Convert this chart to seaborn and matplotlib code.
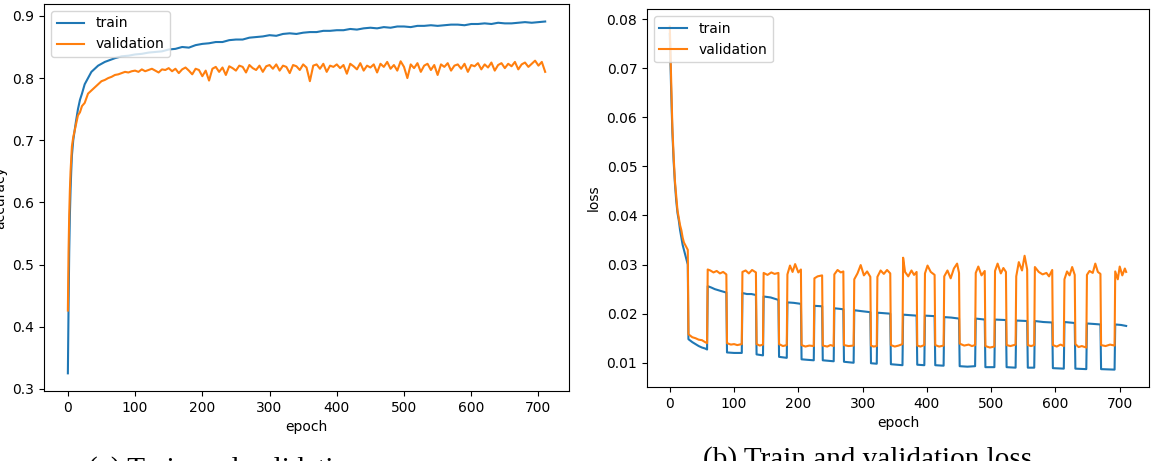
import matplotlib
matplotlib.use("Agg")
import matplotlib.pyplot as plt
import seaborn as sns

# accuracy, train
acc_train_epoch = [0, 1, 2, 3, 4, 5, 6, 8, 10, 12, 15, 18, 21, 25, 30, 35, 40, 45, 50, 55, 60, 70, 80, 90] + list(range(100, 711, 10))
acc_train = [0.325, 0.43, 0.52, 0.58, 0.62, 0.65, 0.675, 0.70, 0.715, 0.73, 0.75, 0.765, 0.775, 0.79, 0.80, 0.81, 0.815, 0.82, 0.823, 0.826, 0.828, 0.832, 0.835, 0.836,
             0.838, 0.839, 0.841, 0.842, 0.843, 0.846, 0.847, 0.850, 0.849, 0.853,
             0.855, 0.856, 0.858, 0.858, 0.861, 0.862, 0.862, 0.865, 0.866, 0.867,
             0.869, 0.868, 0.871, 0.872, 0.871, 0.873, 0.874, 0.874, 0.876, 0.876,
             0.877, 0.877, 0.879, 0.878, 0.880, 0.881, 0.880, 0.882, 0.881, 0.883,
             0.883, 0.882, 0.884, 0.884, 0.885, 0.884, 0.885, 0.886, 0.886, 0.885,
             0.887, 0.887, 0.888, 0.887, 0.889, 0.888, 0.888, 0.889, 0.890, 0.889,
             0.890, 0.891]

# accuracy, validation
acc_val_epoch = [0, 1, 2, 3, 4, 5, 6, 8, 10, 12, 15, 18, 21, 25, 30, 35, 40, 45, 50, 55, 60, 65, 70, 75, 80, 85, 90, 95] + list(range(100, 711, 5))
acc_val = [0.426, 0.52, 0.58, 0.62, 0.65, 0.67, 0.69, 0.705, 0.715, 0.725, 0.74, 0.745, 0.755, 0.76, 0.775, 0.78, 0.785, 0.79, 0.795, 0.797, 0.80, 0.802, 0.805, 0.806, 0.808, 0.81, 0.809, 0.811,
           0.812, 0.810, 0.814, 0.811, 0.813, 0.815, 0.812, 0.809, 0.814, 0.813, 0.816, 0.811, 0.815, 0.808, 0.814, 0.817, 0.812, 0.806, 0.815, 0.813, 0.803,
           0.812, 0.796, 0.815, 0.818, 0.810, 0.817, 0.805, 0.819, 0.816, 0.812, 0.820, 0.818, 0.809, 0.821, 0.816, 0.813, 0.820, 0.810, 0.819, 0.821,
           0.815, 0.822, 0.812, 0.820, 0.818, 0.808, 0.821, 0.819, 0.813, 0.822, 0.817, 0.795, 0.820, 0.822, 0.815, 0.823, 0.810, 0.820, 0.818, 0.822,
           0.816, 0.821, 0.807, 0.823, 0.819, 0.814, 0.824, 0.812, 0.820, 0.817, 0.822, 0.809, 0.823, 0.818, 0.826, 0.815, 0.821, 0.812, 0.827, 0.818,
           0.800, 0.822, 0.816, 0.824, 0.810, 0.820, 0.823, 0.813, 0.821, 0.805, 0.822, 0.818, 0.824, 0.812, 0.820, 0.822, 0.815, 0.823, 0.810, 0.821,
           0.819, 0.824, 0.814, 0.822, 0.817, 0.825, 0.812, 0.821, 0.824, 0.816, 0.823, 0.819, 0.826, 0.814, 0.822, 0.825, 0.818, 0.823, 0.828, 0.820,
           0.826, 0.810]

# loss, validation
loss_val_epoch = [0, 2, 4, 6, 8, 10, 12, 14, 16, 18, 20, 22, 24, 26, 28,
                  29, 35, 40, 45, 50, 55, 58,
                  59, 63, 68, 73, 78, 83, 88,
                  89, 95, 100, 105, 112,
                  113, 118, 123, 128, 134,
                  135, 140, 145,
                  146, 152, 158, 163, 169,
                  170, 176, 182,
                  183, 187, 191, 195, 200, 204,
                  205, 211, 217, 224,
                  225, 230, 237,
                  238, 245, 250, 255,
                  256, 261, 266, 270,
                  271, 278, 286,
                  287, 292, 297, 302, 307, 312,
                  313, 317, 322,
                  323, 328, 333, 338, 343,
                  344, 350, 356, 362,
                  363, 366, 371, 376, 380, 384,
                  385, 390, 396,
                  397, 401, 406, 412,
                  413, 419, 426,
                  427, 432, 437, 442, 447, 450,
                  451, 458, 465, 470, 475,
                  476, 480, 485, 490,
                  491, 498, 505,
                  506, 510, 515, 519, 523,
                  524, 530, 538,
                  539, 543, 548, 552, 556,
                  557, 562, 567,
                  568, 574, 580, 586, 590, 595,
                  596, 602, 608, 613,
                  614, 618, 622, 626, 630,
                  631, 636, 641, 648,
                  649, 653, 658, 662, 666, 670,
                  671, 678, 685, 692,
                  693, 697, 700, 704, 708, 710]
loss_val = [0.0785, 0.068, 0.058, 0.052, 0.047, 0.044, 0.041, 0.0395, 0.038, 0.037, 0.0355, 0.0345, 0.034, 0.0335, 0.033,
            0.0158, 0.0152, 0.0150, 0.0147, 0.0146, 0.0142, 0.0140,
            0.0290, 0.0288, 0.0284, 0.0287, 0.0282, 0.0285, 0.0280,
            0.0140, 0.0137, 0.0138, 0.0136, 0.0138,
            0.0285, 0.0288, 0.0282, 0.0289, 0.0284,
            0.0138, 0.0135, 0.0137,
            0.0283, 0.0279, 0.0284, 0.0281, 0.0283,
            0.0138, 0.0134, 0.0136,
            0.0280, 0.0298, 0.0285, 0.0301, 0.0284, 0.0290,
            0.0136, 0.0133, 0.0135, 0.0134,
            0.0272, 0.0276, 0.0278,
            0.0135, 0.0133, 0.0136, 0.0134,
            0.0280, 0.0289, 0.0284, 0.0286,
            0.0136, 0.0134, 0.0135,
            0.0270, 0.0282, 0.0299, 0.0278, 0.0286, 0.0275,
            0.0135, 0.0133, 0.0134,
            0.0275, 0.0288, 0.0281, 0.0289, 0.0282,
            0.0136, 0.0133, 0.0135, 0.0138,
            0.0314, 0.0285, 0.0276, 0.0288, 0.0279, 0.0285,
            0.0135, 0.0133, 0.0136,
            0.0282, 0.0298, 0.0285, 0.0279,
            0.0136, 0.0133, 0.0135,
            0.0276, 0.0288, 0.0272, 0.0292, 0.0302, 0.0283,
            0.0139, 0.0135, 0.0137, 0.0134, 0.0136,
            0.0283, 0.0296, 0.0278, 0.0287,
            0.0134, 0.0131, 0.0133,
            0.0287, 0.0302, 0.0282, 0.0293, 0.0285,
            0.0136, 0.0134, 0.0137,
            0.0276, 0.0305, 0.0288, 0.0318, 0.0290,
            0.0136, 0.0134, 0.0136,
            0.0295, 0.0285, 0.0280, 0.0283, 0.0276, 0.0289,
            0.0136, 0.0133, 0.0137, 0.0134,
            0.0270, 0.0286, 0.0278, 0.0295, 0.0279,
            0.0138, 0.0132, 0.0134, 0.0131,
            0.0279, 0.0287, 0.0283, 0.0302, 0.0285, 0.0281,
            0.0136, 0.0134, 0.0137, 0.0135,
            0.0286, 0.0270, 0.0296, 0.0278, 0.0292, 0.0285]

# loss, train
loss_train_epoch = [0, 2, 4, 6, 8, 10, 12, 14, 16, 18, 20, 22, 24, 26, 28,
                    29, 35, 40, 45, 50, 55, 58,
                    59, 65, 70, 75, 80, 88,
                    89, 100, 112,
                    113, 120, 127, 134,
                    135, 145,
                    146, 157, 169,
                    170, 182,
                    183, 193, 204,
                    205, 214, 224,
                    225, 237,
                    238, 255,
                    256, 270,
                    271, 286,
                    287, 299, 312,
                    313, 322,
                    323, 333, 343,
                    344, 362,
                    363, 373, 384,
                    385, 396,
                    397, 412,
                    413, 426,
                    427, 438, 450,
                    451, 463, 475,
                    476, 490,
                    491, 505,
                    506, 523,
                    524, 538,
                    539, 556,
                    557, 567,
                    568, 581, 595,
                    596, 613,
                    614, 630,
                    631, 648,
                    649, 660, 670,
                    671, 692,
                    693, 702, 710]
loss_train = [0.077, 0.066, 0.057, 0.051, 0.0465, 0.043, 0.0405, 0.039, 0.037, 0.0355, 0.034, 0.033, 0.032, 0.031, 0.030,
              0.0148, 0.0142, 0.0138, 0.0134, 0.0131, 0.0129, 0.0127,
              0.0256, 0.0253, 0.0250, 0.0248, 0.0246, 0.0243,
              0.0121, 0.0120, 0.0120,
              0.0242, 0.0240, 0.0240, 0.0238,
              0.0117, 0.0115,
              0.0235, 0.0233, 0.0228,
              0.0112, 0.0110,
              0.0223, 0.0222, 0.0220,
              0.0107, 0.0106, 0.0105,
              0.0216, 0.0215,
              0.0105, 0.0103,
              0.0211, 0.0209,
              0.0102, 0.0100,
              0.0207, 0.0205, 0.0203,
              0.0099, 0.0098,
              0.0202, 0.0201, 0.0200,
              0.0097, 0.0095,
              0.0198, 0.0197, 0.0196,
              0.0096, 0.0095,
              0.0196, 0.0195,
              0.0095, 0.0094,
              0.0193, 0.0192, 0.0190,
              0.0093, 0.0092, 0.0093,
              0.0190, 0.0188,
              0.0091, 0.0091,
              0.0188, 0.0187,
              0.0091, 0.0090,
              0.0186, 0.0185,
              0.0090, 0.0090,
              0.0185, 0.0183, 0.0182,
              0.0089, 0.0088,
              0.0183, 0.0181,
              0.0088, 0.0087,
              0.0180, 0.0179, 0.0178,
              0.0087, 0.0086,
              0.0178, 0.0177, 0.0175]

plt.rcParams["font.size"] = 10

fig = plt.figure(figsize=(11.58, 4.61), dpi=100)
ax1 = fig.add_axes([0.038, 0.152, 0.4534, 0.8395])
ax2 = fig.add_axes([0.5587, 0.161, 0.4335, 0.8187])

# (a) accuracy
sns.lineplot(x=acc_train_epoch, y=acc_train, ax=ax1, color="tab:blue", label="train", linewidth=1.5)
sns.lineplot(x=acc_val_epoch, y=acc_val, ax=ax1, color="tab:orange", label="validation", linewidth=1.5)
ax1.set_xlabel("epoch")
ax1.set_ylabel("accuracy")
ax1.legend(loc="upper left")

# (b) loss
sns.lineplot(x=loss_train_epoch, y=loss_train, ax=ax2, color="tab:blue", label="train", linewidth=1.5)
sns.lineplot(x=loss_val_epoch, y=loss_val, ax=ax2, color="tab:orange", label="validation", linewidth=1.5)
ax2.set_xlabel("epoch")
ax2.set_ylabel("loss")
ax2.legend(loc="upper left")

for ax in (ax1, ax2):
    ax.set_xticks([0, 100, 200, 300, 400, 500, 600, 700])

# captions, cut by the bottom edge as in the source (left one sits lower)
fig.text(88 / 1158, 1 - 477 / 461, "(a) Train and validation accuracy",
         family="Liberation Serif", fontsize=21, ha="left", va="baseline")
fig.text(703 / 1158, 1 - 466.5 / 461, "(b) Train and validation loss",
         family="Liberation Serif", fontsize=21, ha="left", va="baseline")

fig.savefig("out.png", dpi=100)
